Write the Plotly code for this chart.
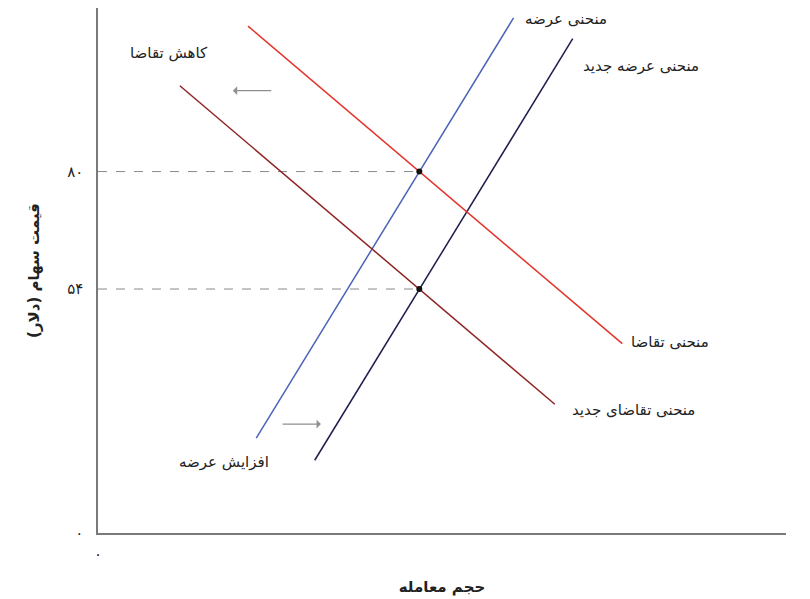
import plotly.graph_objects as go

# ---- data (schematic units) ----
Q_eq = 46.7                      # equilibrium quantity (same for both points)
P_old = 80                       # old equilibrium price
P_new = 54                       # new equilibrium price

supply_x = [23.0, 60.4]
supply_y = [21.0, 114.0]
new_supply_x = [31.5, 69.0]
new_supply_y = [16.1, 109.4]
demand_x = [21.8, 76.2]
demand_y = [112.2, 41.9]
new_demand_x = [11.9, 66.4]
new_demand_y = [99.0, 28.5]

y_tickvals = [0, 54, 80]
y_ticktext = ['۰', '۵۴', '۸۰']
x_tickvals = [0]
x_ticktext = ['۰']

labels = ['کاهش تقاضا', 'منحنی عرضه', 'منحنی عرضه جدید', 'منحنی تقاضا', 'منحنی تقاضای جدید', 'افزایش عرضه']
label_x = [10.3, 68.0, 78.9, 83.1, 77.8, 18.3]
label_y = [106.3, 113.8, 103.4, 42.2, 27.2, 15.7]

# shift arrows: (from_x, to_x, y)
arrow_from_x = [25.4, 26.6]
arrow_to_x = [19.6, 32.4]
arrow_y = [97.9, 24.1]

FONT = 'DejaVu Sans'

fig = go.Figure()

# dashed guide lines
for p in (P_old, P_new):
    fig.add_trace(go.Scatter(x=[0, Q_eq], y=[p, p], mode='lines',
                             line=dict(color='#8a8a8a', width=1, dash='dash'),
                             hoverinfo='skip', showlegend=False))

fig.add_trace(go.Scatter(x=supply_x, y=supply_y, mode='lines',
                         line=dict(color='#4b63b8', width=1.5), showlegend=False))
fig.add_trace(go.Scatter(x=new_supply_x, y=new_supply_y, mode='lines',
                         line=dict(color='#1c1c4e', width=1.5), showlegend=False))
fig.add_trace(go.Scatter(x=demand_x, y=demand_y, mode='lines',
                         line=dict(color='#e3342b', width=1.5), showlegend=False))
fig.add_trace(go.Scatter(x=new_demand_x, y=new_demand_y, mode='lines',
                         line=dict(color='#8e2424', width=1.5), showlegend=False))

fig.add_trace(go.Scatter(x=[Q_eq, Q_eq], y=[P_old, P_new], mode='markers',
                         marker=dict(color='#111111', size=6), showlegend=False))

for t, lx, ly in zip(labels, label_x, label_y):
    fig.add_annotation(x=lx, y=ly, text=t, showarrow=False,
                       font=dict(family=FONT, size=15, color='#222222'))

for fx, tx, ay in zip(arrow_from_x, arrow_to_x, arrow_y):
    fig.add_annotation(x=tx, y=ay, ax=fx, ay=ay, axref='x', ayref='y',
                       xref='x', yref='y', text='', showarrow=True,
                       arrowhead=1, arrowsize=1.2, arrowwidth=1.2,
                       arrowcolor='#8f8f8f')

fig.update_layout(
    width=802, height=591,
    margin=dict(l=90, r=24, t=0, b=66),
    paper_bgcolor='white', plot_bgcolor='white',
    font=dict(family=FONT, size=14, color='#222222'),
    xaxis=dict(range=[0, 100], showgrid=False, zeroline=False,
               showline=True, linecolor='#7a7a7a', linewidth=1.5,
               tickvals=x_tickvals, ticktext=x_ticktext, ticks='',
               tickfont=dict(size=15), fixedrange=True, ticklabelstandoff=6,
               title=dict(text='<b>حجم معامله</b>', font=dict(size=15), standoff=20)),
    yaxis=dict(range=[0, 116.2], showgrid=False, zeroline=False,
               showline=True, linecolor='#7a7a7a', linewidth=1.5,
               tickvals=y_tickvals, ticktext=y_ticktext, ticks='',
               tickfont=dict(size=15), fixedrange=True, ticklabelstandoff=10,
               title=dict(text='<b>قیمت سهام (دلار)</b>', font=dict(size=15), standoff=24)),
)

fig.write_html('out.html')
